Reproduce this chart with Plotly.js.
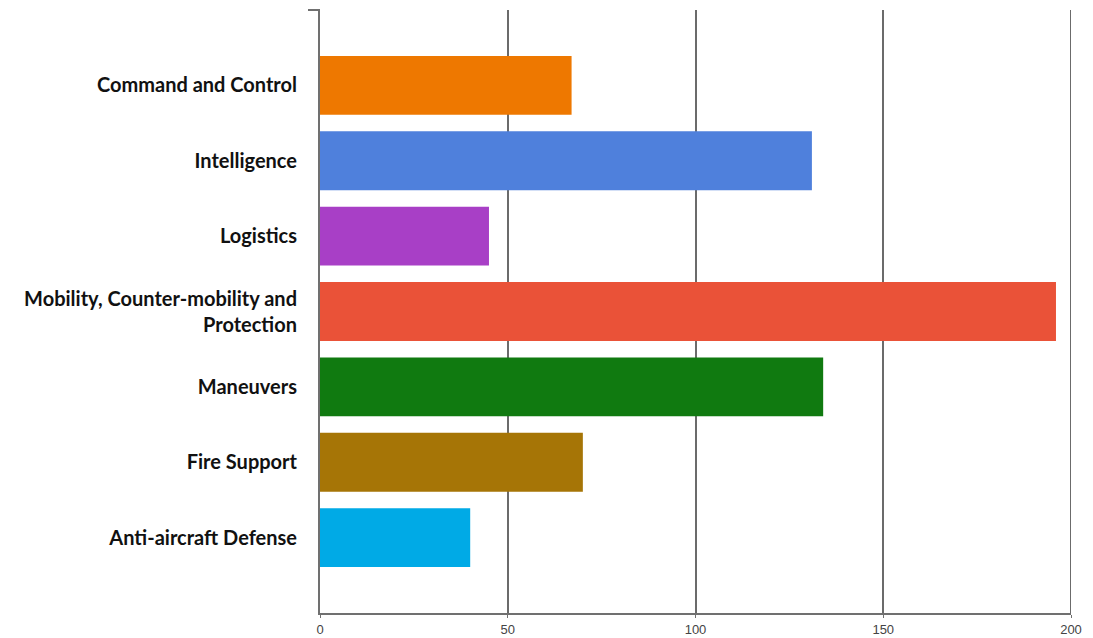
<!DOCTYPE html>
<html>
<head>
<meta charset="utf-8">
<script src="https://cdn.plot.ly/plotly-3.0.1.min.js"></script>
<style>html,body{margin:0;padding:0;background:#fff;}#chart{width:1093px;height:638px;}</style>
</head>
<body>
<div id="chart"></div>
<script>
// Categories listed bottom to top
var categories = [
  "Anti-aircraft Defense",
  "Fire Support",
  "Maneuvers",
  "Mobility, Counter-mobility and<br>Protection",
  "Logistics",
  "Intelligence",
  "Command and Control"
];
var values = [40, 70, 134, 196, 45, 131, 67];
var barColors = ["#00AAE6", "#A67506", "#107A10", "#EA5238", "#A83FC6", "#4F80DC", "#EE7800"];
var xTickVals = [0, 50, 100, 150, 200];
var xTickText = ["0", "50", "100", "150", "200"];

var trace = {
  type: "bar",
  orientation: "h",
  y: categories,
  x: values,
  width: 0.78,
  marker: {color: barColors, line: {width: 0}},
  hoverinfo: "x+y"
};

var xMax = xTickVals[xTickVals.length - 1];

var layout = {
  width: 1093,
  height: 638,
  margin: {l: 320, r: 22, t: 10, b: 25, pad: 0},
  paper_bgcolor: "#ffffff",
  plot_bgcolor: "#ffffff",
  showlegend: false,
  xaxis: {
    range: [0, xMax],
    tickvals: xTickVals,
    ticktext: xTickText,
    showgrid: true,
    gridcolor: "#6b6b6b",
    gridwidth: 2,
    zeroline: false,
    showline: true,
    linecolor: "#707070",
    linewidth: 2,
    ticks: "outside",
    ticklen: 3,
    tickcolor: "#707070",
    tickfont: {family: "Liberation Sans Narrow, Arial Narrow, Liberation Sans, sans-serif", size: 13, color: "#444444"},
    fixedrange: true
  },
  yaxis: {
    type: "category",
    categoryorder: "array",
    categoryarray: categories,
    range: [-1, 7],
    showgrid: false,
    zeroline: false,
    showline: true,
    linecolor: "#707070",
    linewidth: 2,
    ticks: "",
    ticklabelstandoff: 17,
    tickfont: {family: "Lato, Carlito, Open Sans, sans-serif", size: 20, color: "#111111", weight: "bold"},
    fixedrange: true
  },
  shapes: [
    {type: "line", xref: "paper", yref: "paper", x0: -0.016, x1: 0, y0: 1, y1: 1, line: {color: "#707070", width: 2}},
    {type: "line", xref: "x", yref: "paper", x0: xMax, x1: xMax, y0: 0, y1: 1, line: {color: "#6b6b6b", width: 2}, layer: "below"}
  ]
};

Plotly.newPlot("chart", [trace], layout, {displayModeBar: false, staticPlot: true});
</script>
</body>
</html>
